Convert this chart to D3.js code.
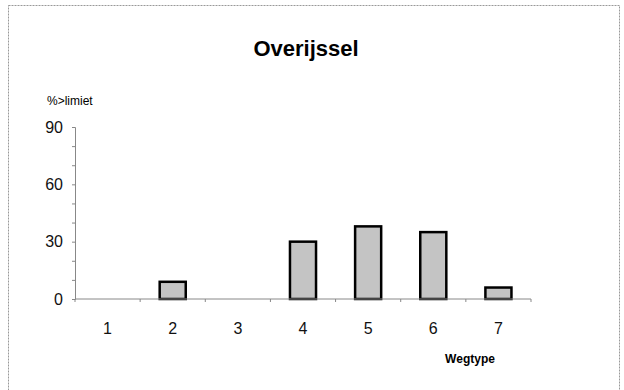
<!DOCTYPE html>
<html>
<head>
<meta charset="utf-8">
<script src="https://cdn.jsdelivr.net/npm/d3@7"></script>
<style>
  body { margin: 0; background: #fff; }
</style>
</head>
<body>
<div id="chart"></div>
<script>
const categories = ["1", "2", "3", "4", "5", "6", "7"];
const values = [0, 9, 0, 30, 38, 35, 6];
const yTicks = [0, 30, 60, 90];

const w = 624, h = 390;
const margin = {top: 127, right: 93, bottom: 91, left: 75};

const svg = d3.select("#chart").append("svg")
    .attr("width", w)
    .attr("height", h);

// frame
svg.append("rect")
    .attr("x", 8.5).attr("y", 5.5)
    .attr("width", 611).attr("height", 390)
    .attr("fill", "none")
    .attr("stroke", "#999")
    .attr("stroke-dasharray", "2,1");

let data = categories.map((c, i) => ({cat: c, val: values[i]}));

let xScale = d3.scaleBand()
    .domain(categories)
    .range([margin.left, w - margin.right])
    .paddingInner(0.6)
    .paddingOuter(0.3);

let yScale = d3.scaleLinear()
    .domain([0, 90])
    .range([h - margin.bottom, margin.top]);

// bars (zero values get no bar)
svg.selectAll("rect.bar")
    .data(data.filter(d => d.val > 0))
    .enter()
    .append("rect")
    .attr("class", "bar")
    .attr("x", d => xScale(d.cat))
    .attr("y", d => yScale(d.val))
    .attr("width", xScale.bandwidth())
    .attr("height", d => yScale(0) - yScale(d.val))
    .attr("fill", "#c4c4c4")
    .attr("stroke", "#000")
    .attr("stroke-width", 2.5);

// y axis
const yAxis = svg.append("g")
    .attr("transform", `translate(${margin.left},0)`)
    .call(d3.axisLeft(yScale).tickValues(d3.range(0, 91, 10)).tickSize(3)
        .tickFormat(d => yTicks.includes(d) ? d : ""));
yAxis.select(".domain").attr("stroke", "#888");
yAxis.selectAll(".tick line").attr("stroke", "#888");
yAxis.selectAll(".tick text")
    .attr("font-family", "Arial, Liberation Sans, sans-serif")
    .attr("font-size", "16px")
    .attr("fill", "#111")
    .attr("x", -12);

// x axis
const x0 = margin.left, x1 = w - margin.right;
const step = (x1 - x0) / categories.length;
const xAxis = svg.append("g")
    .attr("transform", `translate(0,${h - margin.bottom})`);
xAxis.append("line")
    .attr("x1", x0).attr("x2", x1)
    .attr("stroke", "#888");
xAxis.selectAll("line.tk")
    .data(d3.range(categories.length + 1))
    .enter().append("line")
    .attr("class", "tk")
    .attr("x1", d => x0 + d * step).attr("x2", d => x0 + d * step)
    .attr("y1", 0).attr("y2", 3)
    .attr("stroke", "#888");
xAxis.selectAll("text")
    .data(categories)
    .enter().append("text")
    .attr("x", d => xScale(d) + xScale.bandwidth() / 2)
    .attr("y", 35)
    .attr("text-anchor", "middle")
    .attr("font-family", "Arial, Liberation Sans, sans-serif")
    .attr("font-size", "16px")
    .attr("fill", "#111")
    .text(d => d);

// titles
svg.append("text")
    .attr("x", 306).attr("y", 56)
    .attr("text-anchor", "middle")
    .attr("font-family", "Arial, Liberation Sans, sans-serif")
    .attr("font-size", "22px")
    .attr("font-weight", "bold")
    .text("Overijssel");

svg.append("text")
    .attr("x", 47).attr("y", 105)
    .attr("font-family", "Arial, Liberation Sans, sans-serif")
    .attr("font-size", "12px")
    .text("%>limiet");

svg.append("text")
    .attr("x", 470).attr("y", 363)
    .attr("text-anchor", "middle")
    .attr("font-family", "Arial, Liberation Sans, sans-serif")
    .attr("font-size", "12px")
    .attr("font-weight", "bold")
    .text("Wegtype");
</script>
</body>
</html>
